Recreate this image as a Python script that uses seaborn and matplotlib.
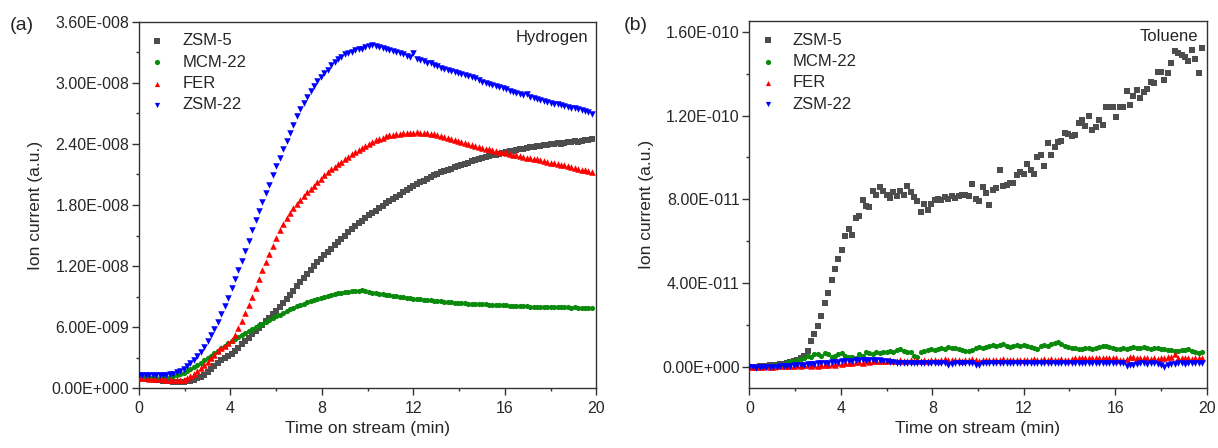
import numpy as np
import pandas as pd
import seaborn as sns
import matplotlib
matplotlib.use("Agg")
import matplotlib.pyplot as plt
from matplotlib.ticker import FuncFormatter, MultipleLocator, FixedLocator

# time on stream (min), one reading every 0.15 min
TIME = np.round(np.arange(133) * 0.15, 2)

SAMPLES = ["ZSM-5", "MCM-22", "FER", "ZSM-22"]
COLORS = ["#4d4d4d", "#0a8a0a", "#ff0000", "#0000ff"]
MARKERS = ["s", "o", "^", "v"]

# (a) Hydrogen, ion current in units of 1e-9
h2_zsm5 = [1.00, 0.98, 0.95, 0.92, 0.88, 0.84, 0.80, 0.76, 0.72, 0.68,
           0.65, 0.64, 0.64, 0.66, 0.70, 0.76, 0.85, 0.98, 1.15, 1.35,
           1.6, 1.9, 2.2, 2.5, 2.8, 3.0, 3.2, 3.4, 3.7, 4.0,
           4.3, 4.6, 4.9, 5.3, 5.6, 5.9, 6.2, 6.6, 6.9, 7.3,
           7.6, 8.0, 8.4, 8.8, 9.2, 9.6, 10.0, 10.4, 10.8, 11.2,
           11.6, 12.0, 12.4, 12.7, 13.1, 13.4, 13.7, 14.1, 14.4, 14.7,
           15.0, 15.3, 15.6, 15.9, 16.2, 16.4, 16.7, 17.0, 17.2, 17.4,
           17.7, 17.9, 18.2, 18.4, 18.6, 18.8, 19.0, 19.3, 19.5, 19.7,
           19.9, 20.1, 20.3, 20.4, 20.6, 20.7, 20.9, 21.0, 21.2, 21.3,
           21.4, 21.5, 21.7, 21.8, 21.9, 22.0, 22.1, 22.3, 22.4, 22.5,
           22.6, 22.7, 22.8, 22.9, 22.9, 23.0, 23.1, 23.2, 23.3, 23.3,
           23.4, 23.5, 23.5, 23.6, 23.7, 23.7, 23.8, 23.8, 23.9, 23.9,
           24.0, 24.0, 24.1, 24.0, 24.1, 24.2, 24.2, 24.3, 24.2, 24.3,
           24.4, 24.4, 24.5]
h2_mcm22 = [1.00, 1.00, 1.00, 1.00, 1.00, 1.00, 1.00, 1.02, 1.05, 1.10,
            1.18, 1.28, 1.38, 1.52, 1.68, 1.86, 2.06, 2.28, 2.50, 2.74,
            3.0, 3.2, 3.5, 3.7, 4.0, 4.2, 4.4, 4.6, 4.8, 5.0,
            5.2, 5.4, 5.6, 5.8, 6.0, 6.2, 6.3, 6.5, 6.7, 6.9,
            7.1, 7.2, 7.4, 7.6, 7.8, 7.9, 8.1, 8.2, 8.3, 8.5,
            8.6, 8.7, 8.8, 8.9, 9.0, 9.1, 9.2, 9.3, 9.4, 9.4,
            9.5, 9.5, 9.6, 9.6, 9.6, 9.7, 9.6, 9.5, 9.4, 9.4,
            9.3, 9.3, 9.2, 9.2, 9.1, 9.1, 9.0, 9.0, 8.9, 8.9,
            8.8, 8.8, 8.8, 8.7, 8.7, 8.7, 8.6, 8.6, 8.6, 8.5,
            8.5, 8.5, 8.4, 8.4, 8.4, 8.4, 8.3, 8.3, 8.3, 8.3,
            8.3, 8.3, 8.2, 8.2, 8.2, 8.2, 8.2, 8.2, 8.1, 8.1,
            8.1, 8.1, 8.1, 8.1, 8.0, 8.0, 8.0, 8.0, 8.0, 8.0,
            8.0, 8.0, 8.0, 8.0, 8.0, 8.0, 7.9, 8.0, 7.9, 7.9,
            7.9, 7.9, 7.9]
h2_fer = [1.00, 1.00, 0.98, 0.96, 0.94, 0.92, 0.90, 0.87, 0.84, 0.80,
          0.78, 0.78, 0.80, 0.86, 1.00, 1.18, 1.40, 1.68, 1.98, 2.30,
          2.62, 2.95, 3.30, 3.65, 3.95, 4.20, 4.45, 4.75, 5.20, 5.95,
          6.6, 7.4, 8.2, 9.0, 9.8, 10.7, 11.6, 12.4, 13.2, 14.0,
          14.8, 15.5, 16.1, 16.7, 17.2, 17.7, 18.1, 18.5, 18.9, 19.3,
          19.6, 19.9, 20.3, 20.6, 20.9, 21.2, 21.5, 21.7, 22.0, 22.2,
          22.5, 22.7, 23.0, 23.2, 23.4, 23.6, 23.8, 24.0, 24.2, 24.4,
          24.5, 24.6, 24.8, 24.9, 24.9, 25.0, 25.0, 25.1, 25.1, 25.1,
          25.1, 25.2, 25.1, 25.1, 25.1, 25.0, 25.0, 24.9, 24.8, 24.7,
          24.6, 24.5, 24.4, 24.3, 24.2, 24.1, 24.0, 23.9, 23.8, 23.7,
          23.6, 23.5, 23.5, 23.4, 23.3, 23.2, 23.2, 23.1, 23.0, 22.9,
          22.9, 22.8, 22.7, 22.6, 22.6, 22.5, 22.5, 22.4, 22.3, 22.2,
          22.1, 22.1, 22.0, 21.9, 21.9, 21.8, 21.7, 21.6, 21.5, 21.4,
          21.4, 21.3, 21.2]
h2_zsm22 = [1.30, 1.30, 1.30, 1.30, 1.30, 1.30, 1.30, 1.32, 1.35, 1.40,
            1.45, 1.55, 1.70, 1.90, 2.15, 2.45, 2.80, 3.15, 3.55, 4.05,
            4.6, 5.2, 5.85, 6.55, 7.3, 8.1, 8.9, 9.8, 10.7, 11.6,
            12.5, 13.5, 14.5, 15.5, 16.5, 17.4, 18.3, 19.2, 20.0, 20.9,
            21.8, 22.6, 23.5, 24.3, 25.1, 25.9, 26.7, 27.4, 28.0, 28.6,
            29.2, 29.7, 30.2, 30.6, 31.0, 31.3, 31.7, 32.0, 32.3, 32.5,
            32.8, 32.9, 33.0, 33.2, 33.3, 33.3, 33.5, 33.6, 33.7, 33.6,
            33.5, 33.4, 33.3, 33.2, 33.1, 33.0, 32.9, 32.8, 32.6, 32.5,
            32.9, 32.3, 32.2, 32.1, 31.9, 31.9, 31.7, 31.6, 31.5, 31.4,
            31.3, 31.2, 31.1, 31.0, 30.9, 30.8, 30.7, 30.6, 30.5, 30.3,
            30.1, 30.0, 29.9, 29.8, 29.7, 29.6, 29.5, 29.4, 29.2, 29.1,
            29.0, 28.9, 28.8, 28.9, 28.6, 28.5, 28.4, 28.3, 28.2, 28.1,
            28.0, 27.9, 27.9, 27.8, 27.7, 27.6, 27.5, 27.5, 27.4, 27.3,
            27.2, 27.1, 26.9]

# (b) Toluene, ion current in units of 1e-11
tol_zsm5 = [0.0, 0.0, 0.0, 0.05, 0.0, 0.05, 0.1, 0.1, 0.1, 0.15,
            0.15, 0.2, 0.25, 0.3, 0.35, 0.45, 0.55, 0.75, 1.25, 1.6,
            1.95, 2.45, 3.05, 3.55, 4.15, 4.7, 5.15, 5.6, 6.25, 6.6,
            6.3, 7.1, 7.2, 7.95, 7.7, 7.65, 8.4, 8.2, 8.6, 8.4,
            8.2, 8.05, 8.35, 8.15, 8.4, 8.2, 8.65, 8.35, 8.1, 7.9,
            7.4, 7.8, 7.5, 7.8, 7.95, 8.0, 7.95, 8.1, 8.0, 8.15,
            8.05, 8.15, 8.2, 8.2, 8.15, 8.75, 8.0, 7.9, 8.6, 8.3,
            7.75, 8.45, 8.55, 9.4, 8.65, 8.7, 8.8, 8.8, 9.15, 9.3,
            9.2, 9.7, 9.4, 9.2, 10.0, 10.1, 9.6, 10.7, 10.1, 10.5,
            10.75, 10.8, 11.15, 11.1, 11.0, 11.05, 11.65, 11.8, 11.5, 12.0,
            11.3, 11.45, 11.8, 11.55, 12.4, 12.4, 12.4, 11.95, 12.4, 12.4,
            13.15, 12.5, 12.95, 13.2, 12.85, 13.1, 13.25, 13.6, 13.55, 14.1,
            14.1, 13.7, 14.05, 14.5, 15.1, 15.0, 14.9, 14.8, 14.6, 15.15,
            14.7, 14.05, 15.2]
tol_mcm22 = [0.0, 0.0, 0.02, 0.0, 0.03, 0.02, 0.05, 0.05, 0.08, 0.1,
             0.12, 0.2, 0.28, 0.25, 0.35, 0.4, 0.45, 0.55, 0.5, 0.6,
             0.6, 0.55, 0.65, 0.6, 0.5, 0.55, 0.6, 0.65, 0.55, 0.5,
             0.5, 0.45, 0.6, 0.55, 0.7, 0.65, 0.6, 0.7, 0.65, 0.7,
             0.7, 0.75, 0.7, 0.8, 0.85, 0.75, 0.7, 0.7, 0.55, 0.5,
             0.7, 0.75, 0.8, 0.85, 0.8, 0.85, 0.9, 0.85, 0.95, 0.9,
             0.9, 0.85, 0.8, 0.75, 0.75, 0.8, 0.9, 0.95, 0.9, 0.95,
             1.0, 1.05, 1.0, 1.05, 1.1, 1.0, 0.95, 1.0, 1.05, 1.0,
             1.05, 1.0, 0.95, 0.9, 0.85, 1.0, 1.05, 1.0, 1.1, 1.15,
             1.2, 1.1, 1.0, 0.95, 0.9, 0.9, 0.85, 0.85, 0.9, 0.9,
             0.85, 0.9, 0.95, 1.0, 1.0, 0.95, 0.9, 0.85, 0.85, 0.9,
             0.85, 0.9, 0.95, 0.9, 0.9, 0.95, 0.9, 0.85, 0.9, 0.9,
             0.85, 0.85, 0.8, 0.8, 0.75, 0.75, 0.8, 0.8, 0.85, 0.75,
             0.7, 0.65, 0.7]
tol_fer = [0.0, -0.02, 0.0, 0.02, 0.0, 0.03, 0.0, 0.02, 0.05, 0.03,
           0.05, 0.04, 0.06, 0.05, 0.08, 0.06, 0.08, 0.1, 0.06, 0.08,
           0.05, 0.1, 0.12, 0.1, 0.15, 0.12, 0.18, 0.15, 0.2, 0.18,
           0.2, 0.22, 0.25, 0.2, 0.28, 0.25, 0.3, 0.27, 0.3, 0.28,
           0.3, 0.32, 0.28, 0.3, 0.33, 0.3, 0.28, 0.32, 0.3, 0.35,
           0.3, 0.33, 0.3, 0.35, 0.32, 0.3, 0.35, 0.38, 0.33, 0.35,
           0.33, 0.35, 0.3, 0.35, 0.33, 0.38, 0.35, 0.3, 0.35, 0.33,
           0.35, 0.33, 0.36, 0.34, 0.38, 0.35, 0.33, 0.36, 0.35, 0.34,
           0.36, 0.35, 0.33, 0.38, 0.35, 0.34, 0.37, 0.35, 0.38, 0.36,
           0.35, 0.37, 0.36, 0.34, 0.38, 0.42, 0.45, 0.43, 0.44, 0.42,
           0.44, 0.42, 0.45, 0.43, 0.42, 0.44, 0.43, 0.41, 0.35, 0.33,
           0.38, 0.48, 0.5, 0.45, 0.43, 0.42, 0.44, 0.4, 0.42, 0.4,
           0.42, 0.45, 0.48, 0.5, 0.6, 0.45, 0.42, 0.44, 0.43, 0.4,
           0.42, 0.45, 0.44]
tol_zsm22 = [-0.02, 0.0, -0.03, 0.0, -0.02, 0.0, 0.02, 0.0, 0.02, 0.03,
             0.03, 0.05, 0.06, 0.08, 0.1, 0.1, 0.12, 0.13, 0.15, 0.15,
             0.17, 0.18, 0.2, 0.2, 0.22, 0.24, 0.25, 0.27, 0.28, 0.3,
             0.3, 0.32, 0.33, 0.35, 0.34, 0.36, 0.35, 0.33, 0.32, 0.3,
             0.28, 0.25, 0.22, 0.2, 0.2, 0.18, 0.2, 0.19, 0.2, 0.18,
             0.2, 0.19, 0.2, 0.18, 0.2, 0.19, 0.2, 0.2, 0.1, 0.15,
             0.18, 0.2, 0.19, 0.2, 0.18, 0.2, 0.08, 0.12, 0.18, 0.2,
             0.19, 0.2, 0.18, 0.2, 0.19, 0.2, 0.18, 0.2, 0.19, 0.2,
             0.2, 0.19, 0.2, 0.18, 0.2, 0.19, 0.2, 0.2, 0.19, 0.2,
             0.2, 0.19, 0.18, 0.2, 0.19, 0.2, 0.18, 0.19, 0.2, 0.19,
             0.2, 0.19, 0.2, 0.18, 0.2, 0.19, 0.2, 0.19, 0.18, 0.2,
             0.05, 0.1, 0.12, 0.15, 0.18, 0.17, 0.16, 0.18, 0.17, 0.15,
             0.12, 0.0, 0.1, 0.15, 0.16, 0.17, 0.18, 0.16, 0.17, 0.18,
             0.18, 0.17, 0.18]

X_TICKS = [0, 4, 8, 12, 16, 20]
Y_TICKS_A = [0, 6e-9, 1.2e-8, 1.8e-8, 2.4e-8, 3.0e-8, 3.6e-8]
Y_TICKS_B = [0, 4e-11, 8e-11, 1.2e-10, 1.6e-10]


def sci_fmt(v, pos):
    s = f"{v:.2E}"
    mant, ex = s.split("E")
    ex = int(ex)
    sign = "-" if ex < 0 else "+"
    return f"{mant}E{sign}{abs(ex):03d}"


sns.set_theme(style="ticks")
plt.rcParams["font.family"] = ["Liberation Sans", "DejaVu Sans"]
plt.rcParams["axes.edgecolor"] = "#333333"
plt.rcParams["axes.linewidth"] = 1.0

fig = plt.figure(figsize=(12.18, 4.48), dpi=100)
ax_a = fig.add_axes([0.1141, 0.1333, 0.3756, 0.8183])
ax_b = fig.add_axes([0.6152, 0.1339, 0.3755, 0.8192])

panels = [
    (ax_a, [h2_zsm5, h2_mcm22, h2_fer, h2_zsm22], 1e-9, (0, 3.6e-8), Y_TICKS_A, 3e-9, "Hydrogen"),
    (ax_b, [tol_zsm5, tol_mcm22, tol_fer, tol_zsm22], 1e-11, (-1.0e-11, 1.651e-10), Y_TICKS_B, 2e-11, "Toluene"),
]

for ax, series, unit, ylim, yticks, yminor, title in panels:
    for name, vals, col, mk in zip(SAMPLES, series, COLORS, MARKERS):
        df = pd.DataFrame({"time": TIME, "current": np.array(vals) * unit})
        size = 22 if mk in ("^", "v") else 14
        sns.scatterplot(data=df, x="time", y="current", marker=mk, color=col,
                        s=size, linewidth=0, label=name, ax=ax, zorder=3)
    ax.set_xlim(0, 20)
    ax.set_ylim(*ylim)
    ax.xaxis.set_major_locator(FixedLocator(X_TICKS))
    ax.xaxis.set_minor_locator(MultipleLocator(2))
    ax.yaxis.set_major_locator(FixedLocator(yticks))
    ax.yaxis.set_minor_locator(MultipleLocator(yminor))
    ax.yaxis.set_major_formatter(FuncFormatter(sci_fmt))
    ax.tick_params(which="major", direction="out", length=5, width=1.0,
                   color="#333333", labelsize=11.5, pad=2)
    ax.tick_params(which="minor", direction="out", length=2.5, width=1.0,
                   color="#333333")
    ax.tick_params(axis="x", pad=4)
    for sp in ax.spines.values():
        sp.set_visible(True)
    ax.set_xlabel("Time on stream (min)", fontsize=12.5, labelpad=4)
    ax.set_ylabel("Ion current (a.u.)", fontsize=12.5, labelpad=6)
    ax.text(0.982, 0.978, title, transform=ax.transAxes, ha="right", va="top",
            fontsize=12)
    leg = ax.legend(loc="upper left", frameon=False, fontsize=12,
                    handlelength=0.8, handletextpad=1.1, borderaxespad=0.4,
                    borderpad=0.3, labelspacing=0.38)
    for h in leg.legend_handles:
        h.set_sizes([14])

fig.text(10 / 1218, 1 - 25 / 448, "(a)", fontsize=14, va="center", ha="left")
fig.text(624 / 1218, 1 - 25 / 448, "(b)", fontsize=14, va="center", ha="left")

fig.savefig("out.png", dpi=100, facecolor="white")
